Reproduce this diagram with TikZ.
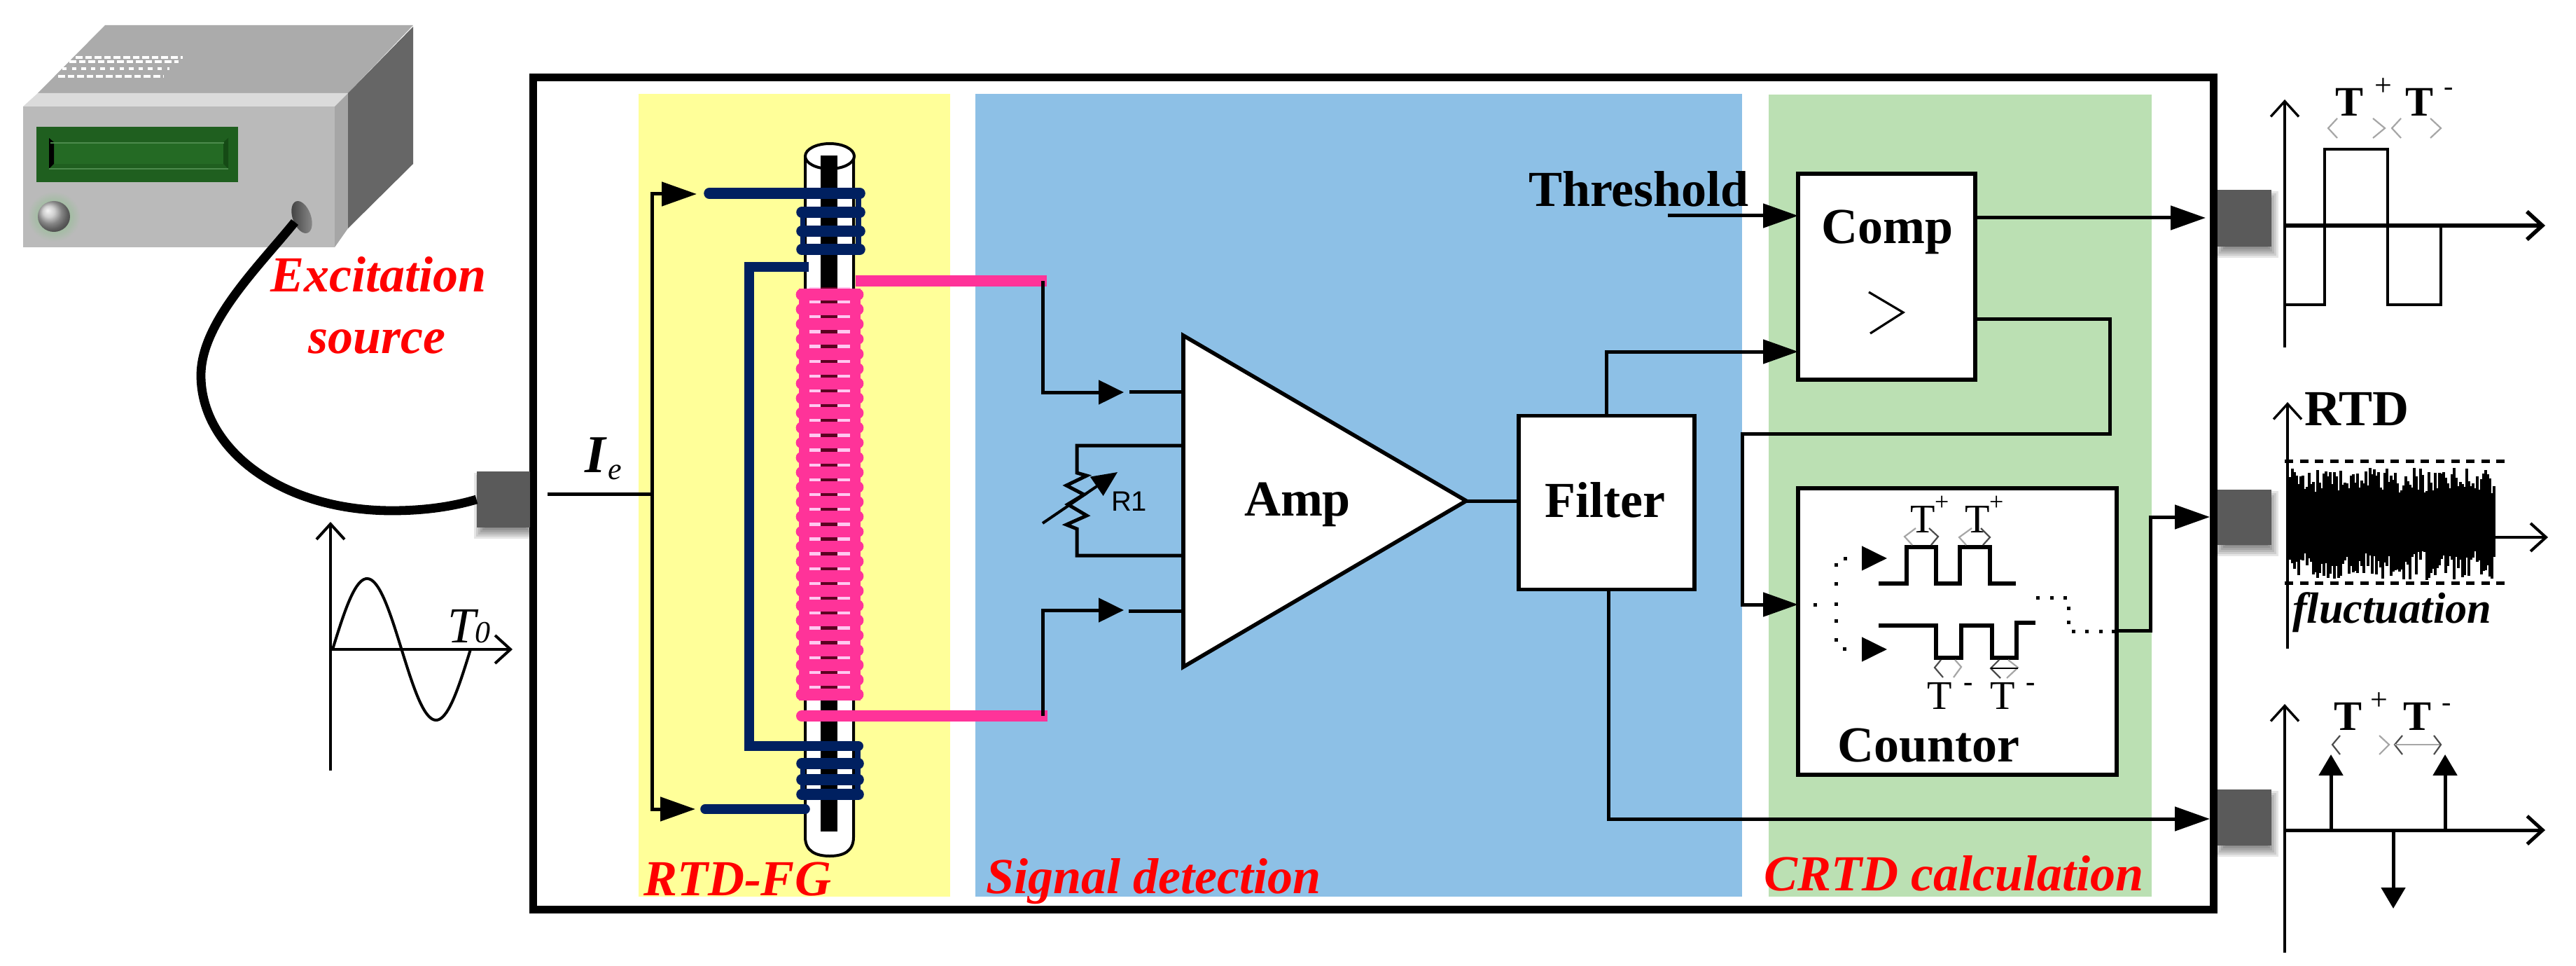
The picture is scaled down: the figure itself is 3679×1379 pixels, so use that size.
\documentclass[tikz,border=0pt]{standalone}
\usepackage{fontspec}
\setmainfont{Liberation Serif}
\newfontfamily\rsans{Liberation Sans}
\usetikzlibrary{arrows.meta,calc}
\definecolor{navyc}{HTML}{002060}
\definecolor{pinkc}{HTML}{FF3399}
\definecolor{yellowc}{HTML}{FFFF99}
\definecolor{bluec}{HTML}{8DC0E6}
\definecolor{greenc}{HTML}{BBE0B3}
\definecolor{portc}{HTML}{5A5A5A}
\definecolor{dispa}{HTML}{1F5F1F}
\definecolor{dispb}{HTML}{246A24}
\definecolor{dispc}{HTML}{154A15}
\definecolor{dispd}{HTML}{4C8A4C}
\definecolor{gapa}{HTML}{FFC8F0}
\definecolor{gapb}{HTML}{5A0020}
\tikzset{
  lbl/.style={inner sep=0pt,outer sep=0pt,anchor=base west},
  big/.style={lbl,font=\fontsize{18}{20}\selectfont\bfseries},
  redlab/.style={lbl,text=red,font=\fontsize{18}{20}\selectfont\bfseries\itshape},
  tb/.style={lbl,font=\fontsize{15}{16}\selectfont\bfseries},
  tr/.style={lbl,font=\fontsize{14.5}{16}\selectfont},
  sup/.style={lbl,font=\fontsize{11}{12}\selectfont},
  box/.style={draw=black,fill=white,line width=1.4pt,inner sep=0pt,outer sep=0pt},
  port/.style={fill=portc,inner sep=0pt,outer sep=0pt},
  wire/.style={line width=1.25pt},
  arr/.style={wire,-{Triangle[length=12.5pt,width=8.5pt]}},
  head/.style={-{Triangle[length=9pt,width=8.5pt]},line width=1.25pt},
  axis/.style={line width=1pt,-{Straight Barb[length=5.5pt,width=10pt]}},
  chev/.style={line width=.55pt,draw=black!70},
  chevg/.style={line width=.55pt,draw=black!35},
  navy/.style={draw=navyc,line width=3.4pt},
  coil/.style={draw=navyc,line width=3.9pt,line cap=round},
  pcoil/.style={draw=pinkc,line width=4.2pt,line cap=round},
}
\newcommand{\softshadow}[4]{%
  \foreach \d in {-8,-5,-2,1,4,7}{%
    \fill[black,opacity=.10] ({#1+3-\d},{#2+9-\d}) rectangle ({#3+3+\d},{#4+9+\d});}}
\begin{document}
\begin{tikzpicture}[x=0.25pt,y=-0.25pt]
\useasboundingbox (0,0) rectangle (3679,1379);
\fill[white] (0,0) rectangle (3679,1379);

% ---------- excitation device
\fill[black!33] (54,133) -- (150,36) -- (590,36) -- (497,133) -- cycle;
\fill[black!14] (33,152) -- (54,133) -- (497,133) -- (478,152) -- cycle;
\fill[black!27] (33,152) rectangle (478,353);
\fill[black!35] (478,152) -- (497,133) -- (497,326) -- (478,353) -- cycle;
\fill[black!60] (497,133) -- (590,38) -- (590,234) -- (497,326) -- cycle;
\draw[white,line width=.9pt,dash pattern=on 2.4pt off 1pt] (108,82) -- (261,82);
\draw[white,line width=.9pt,dash pattern=on 2.4pt off 1pt] (99,88) -- (255,88);
\draw[white,line width=.9pt,dash pattern=on 1.6pt off 1.8pt] (89,98) -- (242,98);
\draw[white,line width=.9pt,dash pattern=on 2.4pt off 1pt] (83,109) -- (233,109);
\fill[dispa] (52,181) rectangle (340,260);
\fill[dispb] (77,203) rectangle (319,234);
\fill[black] (70,197) -- (77,203) -- (77,234) -- (70,241) -- cycle;
\fill[dispc] (319,203) -- (326,197) -- (326,241) -- (319,234) -- cycle;
\draw[dispd,line width=.6pt] (72,204) -- (320,204);
\draw[dispd,line width=.6pt] (70,241) -- (326,241);
\shade[inner color=black!15!green!40!gray!70,outer color=black!27] (77,309) ellipse (38 and 36);
\shade[ball color=black!25] (77,309) ellipse (23 and 22);
\shade[rotate around={20:(431,310)},left color=black!75,right color=black!45] (431,310) ellipse (13 and 24);
\coordinate (plug) at (421,317);

% ---------- main frame and regions
\node[draw=black,fill=white,line width=2.75pt,inner sep=0pt,outer sep=0pt,
      minimum width=2400*0.25pt,minimum height=1187*0.25pt] (frame) at (1961,704.5) {};
\fill[yellowc] (912,134) rectangle (1357,1280);
\fill[bluec] (1393,134) rectangle (2488,1280);
\fill[greenc] (2526,135) rectangle (3073,1280);
\softshadow{681}{673}{756}{753}
\softshadow{3167}{271}{3244}{352}
\softshadow{3167}{699}{3244}{778}
\softshadow{3167}{1127}{3244}{1207}
\draw[line width=2.75pt] (frame.north west) rectangle (frame.south east);

% ---------- ports
\node[port,minimum width=76*0.25pt,minimum height=80*0.25pt] (p1) at (718.5,713) {};
\node[port,minimum width=77*0.25pt,minimum height=81*0.25pt] (p2) at (3205.5,311.5) {};
\node[port,minimum width=77*0.25pt,minimum height=79*0.25pt] (p3) at (3205.5,738.5) {};
\node[port,minimum width=77*0.25pt,minimum height=80*0.25pt] (p4) at (3205.5,1167) {};

% ---------- cable
\draw[line width=3.2pt] (plug) .. controls (370,380) and (287,460) .. (287,536)
   .. controls (287,640) and (400,729) .. (560,729)
   .. controls (610,729) and (650,722) .. (p1.west);

% ---------- sine plot
\coordinate (so) at (472,927);
\draw[axis] (472,1100) -- (472,745);
\draw[axis] (so) -- (732,927);
\draw[line width=1pt] plot[domain=0:1,samples=80,smooth] ({475+197*\x},{927-101*sin(360*\x)});
\node[lbl,font=\fontsize{18}{20}\selectfont\itshape] (t0) at (639,917) {T};
\node[lbl,font=\fontsize{11}{12}\selectfont\itshape] (t0s) at (678,917) {0};

% ---------- I_e and excitation text
\node[lbl,font=\fontsize{19}{20}\selectfont\bfseries\itshape] (ie) at (835,674) {I};
\node[lbl,font=\fontsize{11}{12}\selectfont\itshape] (ies) at (868,684) {e};
\node[redlab] (ex1) at (386,417) {Excitation};
\node[redlab] (ex2) at (440,504) {source};

% ---------- excitation feed
\coordinate (feedin) at (782,705);
\coordinate (feedj) at (931,705);
\coordinate (feedtop) at (995,277);
\coordinate (feedbot) at (993,1155);
\draw[wire] (feedin) -- (feedj);
\draw[arr] (feedj) |- (feedtop);
\draw[arr] (feedj) |- (feedbot);

% ---------- fluxgate rod
\fill[white] (1150,223) -- (1150,1195) .. controls (1150,1215) and (1165,1222) .. (1185,1222)
  .. controls (1205,1222) and (1219,1215) .. (1219,1195) -- (1219,223) -- cycle;
\draw[line width=1pt] (1150,223) -- (1150,1195) .. controls (1150,1215) and (1165,1222) .. (1185,1222)
  .. controls (1205,1222) and (1219,1215) .. (1219,1195) -- (1219,223);
\draw[line width=1pt,fill=white] (1185,223) ellipse (35 and 18);
\fill[black] (1172,222) rectangle (1196,1187);
\fill[gapa] (1156,410) rectangle (1214,1000);
\fill[gapb] (1172,410) rectangle (1196,1000);
% navy coils
\draw[coil] (1013,276) -- (1228,276);
\foreach \yy in {303,330,356}{\draw[coil] (1145,\yy) -- (1228,\yy);}
\fill[navyc] (1143,303) rectangle (1150,356);
\fill[navyc] (1222,276) rectangle (1230,356);
\draw[navy,line join=miter] (1155,381) -- (1070,381) -- (1070,1065) -- (1226,1065);
\fill[navyc] (1226,1065) circle (7);
\foreach \yy in {1090,1113,1134}{\draw[coil] (1145,\yy) -- (1226,\yy);}
\fill[navyc] (1143,1090) rectangle (1150,1134);
\fill[navyc] (1221,1065) rectangle (1229,1134);
\draw[navy,line cap=round] (1007,1155) -- (1150,1155);
% pink coil
\fill[pinkc] (1141,412) rectangle (1156,1000);
\fill[pinkc] (1214,412) rectangle (1229,1000);
\foreach \k in {0,...,27}{\draw[pcoil] (1145,{420.5+21.15*\k}) -- (1225,{420.5+21.15*\k});}
\coordinate (ptop) at (1495,401);
\coordinate (pbot) at (1496,1022);
\draw[draw=pinkc,line width=4pt] (1222,401) -- (ptop);
\draw[draw=pinkc,line width=4pt] (1145,1022) -- (pbot);
\fill[pinkc] (1145,1022) circle (8);

% ---------- amplifier
\coordinate (ampa) at (1690,479);
\coordinate (ampb) at (1690,952);
\coordinate (ampc) at (2094,715);
\filldraw[fill=white,draw=black,line width=1.4pt,line join=miter] (ampa) -- (ampc) -- (ampb) -- cycle;
\node[big] (amptxt) at (1777,736) {Amp};
% inputs
\coordinate (in1) at (1605,560);
\coordinate (in2) at (1605,871);
\coordinate (in1a) at (1613,559);
\coordinate (in2a) at (1612,872);
\draw[wire,-{Triangle[length=9pt,width=8.5pt]}] (1489,401) |- (in1);
\draw[wire] (in1a) -- (1690,559);
\draw[wire,-{Triangle[length=9pt,width=8.5pt]}] (1489,1022) |- (in2);
\draw[wire] (in2a) -- (1690,872);
% feedback resistor
\draw[wire,line join=miter] (1690,636) -- (1538,636) -- (1538,675) -- (1552,679) -- (1523,693) -- (1548,706)
  -- (1525,720) -- (1552,736) -- (1523,749) -- (1538,755) -- (1538,793) -- (1690,793);
\coordinate (ra) at (1489,747);
\coordinate (rb) at (1596,674);
\draw[line width=1pt,-{Triangle[length=9pt,width=8pt]}] (ra) -- (rb);
\node[lbl,font=\rsans\fontsize{10}{12}\selectfont] (r1) at (1587,729) {R1};

% ---------- filter
\node[box,minimum width=251*0.25pt,minimum height=248*0.25pt] (filter) at (2294.5,717.5) {};
\node[big] (filtxt) at (2206,738) {Filter};
\draw[wire] (ampc) -- (filter.west |- ampc);

% ---------- comparator
\node[box,minimum width=253*0.25pt,minimum height=294*0.25pt] (comp) at (2694.5,395) {};
\node[big] (cmptxt) at (2601,348) {Comp};
\draw[line width=.8pt] (2669,417) -- (2718,446) -- (2671,476);
\node[big] (thr) at (2183,295) {Threshold};
\coordinate (thrs) at (2382,308);
\draw[arr] (thrs) -- (comp.west |- thrs);
\coordinate (cmpin) at (2294,502);
\draw[arr] (filter.north -| cmpin) |- (comp.west |- cmpin);
\coordinate (cmpout) at (2821,311);
\coordinate (p2in) at (3150,311);
\draw[arr] (comp.east |- cmpout) -- (p2in);
\coordinate (cmpl) at (2821,456);

% ---------- counter
\node[box,minimum width=455*0.25pt,minimum height=409*0.25pt] (cnt) at (2795.5,901.5) {};
\node[big] (cnttxt) at (2624,1087) {Countor};
\coordinate (cntin) at (2500,863);
\draw[arr] (comp.east |- cmpl) -- (3013,456) -- (3013,619) -- (2488,619) -- (2488,863) -- (cnt.west |- cntin);
% pulses
\draw[line width=1.4pt,line join=miter] (2683,833) -- (2723,833) -- (2723,781) -- (2765,781) -- (2765,833)
  -- (2799,833) -- (2799,781) -- (2842,781) -- (2842,833) -- (2879,833);
\draw[line width=1.4pt,line join=miter] (2683,893) -- (2765,893) -- (2765,939) -- (2801,939) -- (2801,893)
  -- (2845,893) -- (2845,939) -- (2880,939) -- (2880,889) -- (2907,889);
% dotted branch
\foreach \px/\py in {2592/863,2622/862,2622/886,2622/913,2634/926,2622/833,2622/806,2635/797,
   2910/853,2930/853,2949/853,2954/868,2954/888,2961/901,2980/901,3000/901,3018/901}{
  \fill[black] ({\px-2.5},{\py-2.5}) rectangle ({\px+2.5},{\py+2.5});}
\coordinate (da1) at (2662,797);
\coordinate (da2) at (2695,797);
\coordinate (db1) at (2662,927);
\coordinate (db2) at (2695,927);
\draw[head] (da1) -- (da2);
\draw[head] (db1) -- (db2);
% chevrons in counter
\draw[chevg] (2736,754) -- (2720,766) -- (2731,778);
\draw[chev] (2755,754) -- (2768,766) -- (2758,778);
\draw[chevg] (2816,754) -- (2798,767) -- (2808,778);
\draw[chev] (2829,754) -- (2842,767) -- (2832,778);
\draw[chev] (2772,942) -- (2763,953) -- (2775,967);
\draw[chevg] (2792,942) -- (2801,952) -- (2790,967);
\draw[chev] (2855,942) -- (2843,954) -- (2857,968);
\draw[chevg] (2868,942) -- (2882,953) -- (2866,968);
\draw[line width=.7pt] (2843,954) -- (2882,954);
% T labels in counter
\node[tr] (ca) at (2728,760) {T};
\node[sup,font=\fontsize{9}{10}\selectfont] (caa) at (2763,728) {+};
\node[tr] (cb) at (2806,760) {T};
\node[sup,font=\fontsize{9}{10}\selectfont] (cbb) at (2841,728) {+};
\node[tr] (cc) at (2752,1012) {T};
\node[sup,font=\fontsize{10}{10}\selectfont\bfseries] (ccc) at (2804,986) {-};
\node[tr] (cd) at (2842,1012) {T};
\node[sup,font=\fontsize{10}{10}\selectfont\bfseries] (cdd) at (2893,986) {-};
% counter output
\coordinate (cntout) at (3023,900);
\coordinate (p3in) at (3156,738);
\draw[arr] (cnt.east |- cntout) -- (3071,900) -- (3071,738) -- (p3in);

% ---------- direct output
\coordinate (dout) at (2297,1169);
\coordinate (p4in) at (3156,1169);
\draw[arr] (filter.south -| dout) |- (p4in);

% ---------- region labels
\node[redlab] (l1) at (919,1278) {RTD-FG};
\node[redlab] (l2) at (1408,1275) {Signal detection};
\node[redlab] (l3) at (2519,1271) {CRTD calculation};

% ---------- plot 1
\draw[axis,line width=.85pt] (3263,496) -- (3263,142);
\draw[axis,line width=1.4pt] (3263,322) -- (3635,322);
\draw[line width=1pt,line join=miter] (3263,435) -- (3320,435) -- (3320,213) -- (3410,213) -- (3410,435)
  -- (3486,435) -- (3486,322);
\node[tb] (a1) at (3335,166) {T};
\node[sup] (a2) at (3391,137) {+};
\node[tb] (a3) at (3435,166) {T};
\node[sup,font=\fontsize{10}{10}\selectfont] (a4) at (3490,137) {-};
\draw[chevg] (3338,169) -- (3325,183) -- (3338,197);
\draw[chevg] (3389,169) -- (3406,183) -- (3389,197);
\draw[chevg] (3429,169) -- (3416,183) -- (3429,197);
\draw[chevg] (3471,169) -- (3486,183) -- (3471,197);

% ---------- plot 2
\draw[axis,line width=.85pt] (3267,926) -- (3267,574);
\draw[axis] (3267,767) -- (3639,767);
\pgfmathsetseed{11}
\foreach \n in {0,...,98}{
  \pgfmathsetmacro\xx{3268+3*\n}
  \pgfmathsetmacro\ta{668+36*rnd}
  \pgfmathsetmacro\tb{828-42*rnd}
  \draw[line width=1.05pt] (\xx,\ta) -- (\xx,\tb);
}
\foreach \yy in {658,832}{
  \draw[line width=1.25pt,dash pattern=on 3pt off 2.4pt] (3263,\yy) -- (3577,\yy);}
\node[big] (rtd) at (3291,607) {RTD};
\node[lbl,font=\fontsize{15.6}{18}\selectfont\bfseries\itshape] (flu) at (3274,889) {fluctuation};

% ---------- plot 3
\draw[axis,line width=.85pt] (3263,1360) -- (3263,1005);
\draw[axis,line width=1.25pt] (3263,1185) -- (3635,1185);
\draw[head,-{Triangle[length=7.5pt,width=8.5pt]}] (3329,1185) -- (3329,1077);
\draw[head,-{Triangle[length=7.5pt,width=8.5pt]}] (3492,1185) -- (3492,1077);
\draw[head,-{Triangle[length=7.5pt,width=8.5pt]}] (3418,1185) -- (3418,1297);
\node[tb] (b1) at (3333,1042) {T};
\node[sup] (b2) at (3385,1013) {+};
\node[tb] (b3) at (3432,1042) {T};
\node[sup,font=\fontsize{10}{10}\selectfont] (b4) at (3487,1015) {-};
\draw[chev] (3342,1050) -- (3331,1063) -- (3342,1077);
\draw[chevg] (3398,1050) -- (3412,1063) -- (3398,1077);
\draw[chev] (3431,1050) -- (3420,1063) -- (3431,1077);
\draw[chevg] (3420,1063) -- (3486,1063);
\draw[chev] (3476,1050) -- (3486,1063) -- (3476,1077);
\end{tikzpicture}
\end{document}
